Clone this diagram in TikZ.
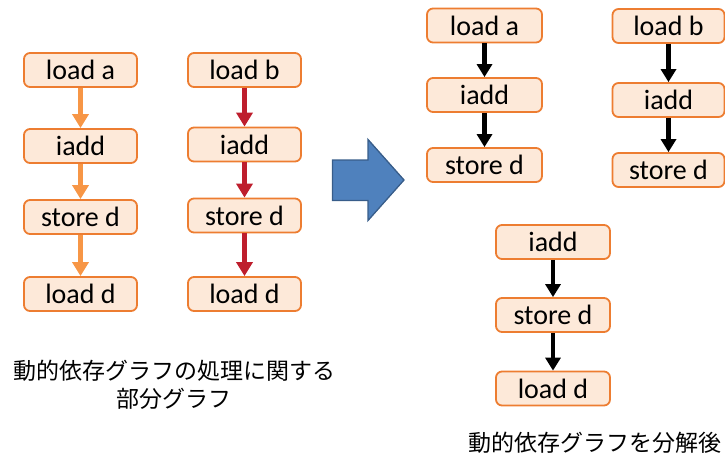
\documentclass[tikz,border=0pt]{standalone}
\usepackage{fontspec}
\usetikzlibrary{arrows.meta}
\newfontfamily\boxfont{Carlito}
\newfontfamily\jpfont{Noto Sans CJK JP}
\definecolor{boxedge}{HTML}{ED7D31}
\definecolor{boxfill}{HTML}{FDE9D9}
\definecolor{flowA}{HTML}{F79646}
\definecolor{flowB}{HTML}{BE1E2D}
\definecolor{bigfill}{HTML}{4F81BD}
\definecolor{bigedge}{HTML}{385D8A}
\tikzset{
  op/.style={draw=boxedge, fill=boxfill, line width=1.8pt, rounded corners=6pt,
    minimum width=113pt, minimum height=34pt, inner sep=0pt,
    font=\boxfont\fontsize{28}{30}\selectfont},
  flowa/.style={draw=flowA, line width=5pt, -{Triangle[width=16pt,length=14pt]}},
  flowb/.style={draw=flowB, line width=5pt, -{Triangle[width=16pt,length=14pt]}},
  dep/.style={draw=black, line width=4.6pt, -{Triangle[width=15pt,length=13pt]}},
  caption/.style={font=\jpfont\fontsize{23}{28}\selectfont, align=center}
}
\begin{document}
\begin{tikzpicture}[x=1pt,y=-1pt]
\useasboundingbox (0,0) rectangle (725,458);

% subgraph for the first operand
\node[op] (la)  at (80.5,70)  {load a};
\node[op] (ia)  at (80.5,146) {iadd};
\node[op] (sa)  at (80.5,217) {store d};
\node[op] (lda) at (80.5,294) {load d};
\draw[flowa] (la) -- (ia);
\draw[flowa] (ia) -- (sa);
\draw[flowa] (sa) -- (lda);

% subgraph for the second operand
\node[op] (lb)  at (244.5,70)    {load b};
\node[op] (ib)  at (244.5,144.5) {iadd};
\node[op] (sb)  at (244.5,215.5) {store d};
\node[op] (ldb) at (244.5,294)   {load d};
\draw[flowb] (lb) -- (ib);
\draw[flowb] (ib) -- (sb);
\draw[flowb] (sb) -- (ldb);

\node[caption] (capl) at (174,385) {動的依存グラフの処理に関する\\部分グラフ};

% transformation arrow
\filldraw[fill=bigfill, draw=bigedge, line width=1.3pt]
  (332.5,160) -- (368,160) -- (368,139.5) -- (404,180) -- (368,220.5)
  -- (368,200.5) -- (332.5,200.5) -- cycle;

% decomposed graphs
\node[op, minimum width=115pt] (ra1) at (484.5,25.5) {load a};
\node[op, minimum width=115pt] (ra2) at (484.5,95)   {iadd};
\node[op, minimum width=115pt] (ra3) at (484.5,165)  {store d};
\draw[dep] (ra1) -- (ra2);
\draw[dep] (ra2) -- (ra3);

\node[op, minimum width=112pt] (rb1) at (668.5,26)  {load b};
\node[op, minimum width=112pt] (rb2) at (668.5,100) {iadd};
\node[op, minimum width=112pt] (rb3) at (668.5,170) {store d};
\draw[dep] (rb1) -- (rb2);
\draw[dep] (rb2) -- (rb3);

\node[op, minimum width=114pt] (rc1) at (553,242)   {iadd};
\node[op, minimum width=114pt] (rc2) at (553,315)   {store d};
\node[op, minimum width=114pt] (rc3) at (553,388.5) {load d};
\draw[dep] (rc1) -- (rc2);
\draw[dep] (rc2) -- (rc3);

\node[caption] (capr) at (595,443) {動的依存グラフを分解後};
\end{tikzpicture}
\end{document}
